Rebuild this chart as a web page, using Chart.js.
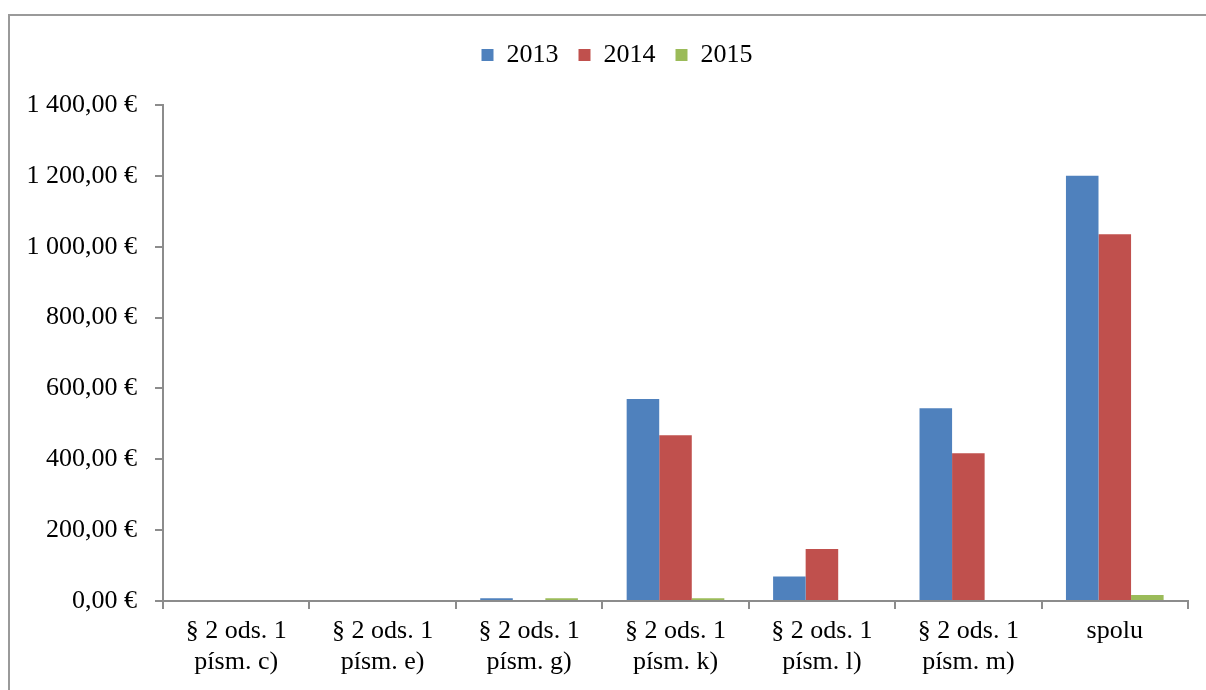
<!DOCTYPE html>
<html>
<head>
<meta charset="utf-8">
<script src="https://cdn.jsdelivr.net/npm/chart.js@4.4.0/dist/chart.umd.min.js"></script>
<style>
  html, body { margin: 0; padding: 0; background: #fff; }
  #wrap { width: 1206px; height: 690px; position: relative; }
</style>
</head>
<body>
<div id="wrap"><canvas id="chart" width="1206" height="690"></canvas></div>
<script>
// categories
const categories = [
    ["§ 2 ods. 1", "písm. c)"],
    ["§ 2 ods. 1", "písm. e)"],
    ["§ 2 ods. 1", "písm. g)"],
    ["§ 2 ods. 1", "písm. k)"],
    ["§ 2 ods. 1", "písm. l)"],
    ["§ 2 ods. 1", "písm. m)"],
    "spolu"
];

// series values (EUR)
const values2013 = [0, 0, 8, 570, 69, 544, 1200];
const values2014 = [0, 0, 0, 468, 147, 417, 1035];
const values2015 = [0, 0, 8, 8, 0, 0, 17];

// y axis tick labels, one per 200 €
const yTickLabels = ["0,00 €", "200,00 €", "400,00 €", "600,00 €", "800,00 €",
    "1 000,00 €", "1 200,00 €", "1 400,00 €"];

const serif = "'Liberation Serif', 'Times New Roman', serif";

// outer frame like the office chart border
const framePlugin = {
    id: "frame",
    afterInit(chart) {
        // extra room between the legend and the plot
        const legend = chart.legend;
        const fit = legend.fit;
        legend.fit = function () {
            fit.call(this);
            this.height += 27;
        };
    },
    afterLayout(chart) {
        // legend sits a bit right of the canvas centre
        chart.legend.left += 23;
        chart.legend.right += 23;
    },
    beforeDraw(chart) {
        const c = chart.ctx;
        c.save();
        c.fillStyle = "#fff";
        c.fillRect(0, 0, chart.width, chart.height);
        c.strokeStyle = "#9a9a9a";
        c.lineWidth = 2;
        c.strokeRect(9, 15, 1400, 900);
        c.restore();
    }
};

var ctx = document.getElementById("chart").getContext("2d");
new Chart(ctx, {
    type: "bar",
    data: {
        labels: categories,
        datasets: [
            { label: "2013", data: values2013, backgroundColor: "#4F81BD" },
            { label: "2014", data: values2014, backgroundColor: "#C0504D" },
            { label: "2015", data: values2015, backgroundColor: "#9BBB59" }
        ]
    },
    options: {
        responsive: false,
        animation: false,
        layout: { padding: { left: 0, right: 18, top: 22, bottom: 0 } },
        datasets: { bar: { categoryPercentage: 0.667, barPercentage: 1 } },
        plugins: {
            tooltip: { enabled: false },
            legend: {
                position: "top",
                labels: {
                    color: "#000",
                    font: { family: serif, size: 26 },
                    boxWidth: 12,
                    boxHeight: 12,
                    padding: 20
                }
            }
        },
        scales: {
            x: {
                offset: true,
                grid: { offset: true, drawOnChartArea: false, drawTicks: true, tickLength: 8, color: "#8c8c8c", lineWidth: 2 },
                border: { display: true, color: "#8c8c8c", width: 2 },
                ticks: {
                    color: "#000",
                    font: { family: serif, size: 26, lineHeight: 1.19 },
                    padding: 7,
                    maxRotation: 0,
                    autoSkip: false
                },
                afterFit: s => { s.height = 89; }
            },
            y: {
                min: 0,
                max: 1400,
                grid: { drawOnChartArea: false, drawTicks: true, tickLength: 8, color: "#8c8c8c", lineWidth: 2 },
                border: { display: true, color: "#8c8c8c", width: 2 },
                ticks: {
                    stepSize: 200,
                    color: "#000",
                    font: { family: serif, size: 26 },
                    padding: 18,
                    callback: v => yTickLabels[Math.round(v / 200)]
                },
                afterFit: s => { s.width = 163; }
            }
        }
    },
    plugins: [framePlugin]
});
</script>
</body>
</html>
